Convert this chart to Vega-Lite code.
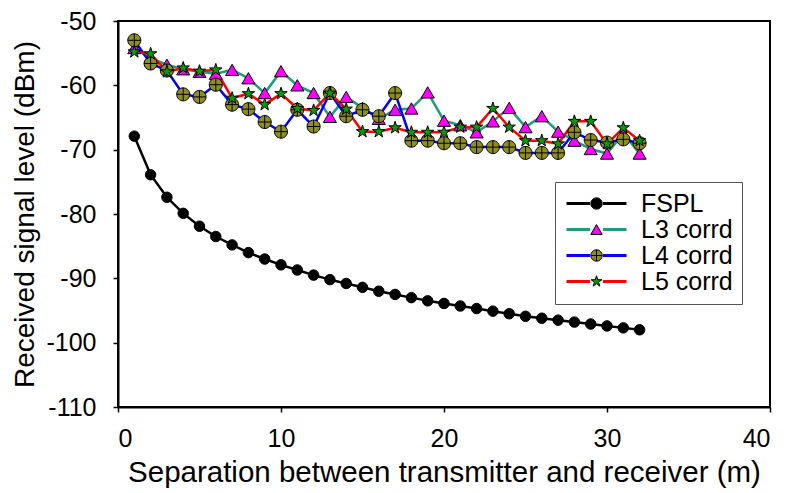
{
  "$schema": "https://vega.github.io/schema/vega-lite/v6.json",
  "width": 652,
  "height": 386,
  "autosize": {"type": "none"},
  "padding": {"left": 118, "top": 21, "right": 18, "bottom": 86},
  "background": "white",
  "config": {
    "font": "Liberation Sans",
    "view": {"stroke": "black", "strokeWidth": 2},
    "axis": {
      "grid": false,
      "domainColor": "black",
      "domainWidth": 2,
      "tickColor": "black",
      "tickWidth": 1.5,
      "tickSize": 5,
      "labelFont": "Liberation Sans",
      "labelFontSize": 25,
      "labelColor": "black",
      "titleFont": "Liberation Sans",
      "titleFontSize": 28,
      "titleFontWeight": "normal",
      "titleColor": "black"
    },
    "legend": {"labelFont": "Liberation Sans", "labelFontSize": 25, "labelColor": "black"}
  },
  "data": {
    "values": [
      {"series": "FSPL", "d": 1, "v": -67.9}, {"series": "FSPL", "d": 2, "v": -73.9}, {"series": "FSPL", "d": 3, "v": -77.4}, {"series": "FSPL", "d": 4, "v": -79.9},
      {"series": "FSPL", "d": 5, "v": -81.9}, {"series": "FSPL", "d": 6, "v": -83.5}, {"series": "FSPL", "d": 7, "v": -84.8}, {"series": "FSPL", "d": 8, "v": -86.0},
      {"series": "FSPL", "d": 9, "v": -87.0}, {"series": "FSPL", "d": 10, "v": -87.9}, {"series": "FSPL", "d": 11, "v": -88.7}, {"series": "FSPL", "d": 12, "v": -89.5},
      {"series": "FSPL", "d": 13, "v": -90.2}, {"series": "FSPL", "d": 14, "v": -90.8}, {"series": "FSPL", "d": 15, "v": -91.4}, {"series": "FSPL", "d": 16, "v": -92.0},
      {"series": "FSPL", "d": 17, "v": -92.5}, {"series": "FSPL", "d": 18, "v": -93.0}, {"series": "FSPL", "d": 19, "v": -93.5}, {"series": "FSPL", "d": 20, "v": -93.9},
      {"series": "FSPL", "d": 21, "v": -94.3}, {"series": "FSPL", "d": 22, "v": -94.7}, {"series": "FSPL", "d": 23, "v": -95.1}, {"series": "FSPL", "d": 24, "v": -95.5},
      {"series": "FSPL", "d": 25, "v": -95.9}, {"series": "FSPL", "d": 26, "v": -96.2}, {"series": "FSPL", "d": 27, "v": -96.5}, {"series": "FSPL", "d": 28, "v": -96.8},
      {"series": "FSPL", "d": 29, "v": -97.1}, {"series": "FSPL", "d": 30, "v": -97.4}, {"series": "FSPL", "d": 31, "v": -97.7}, {"series": "FSPL", "d": 32, "v": -98.0},

      {"series": "L3 corrd", "d": 1, "v": -54.2}, {"series": "L3 corrd", "d": 2, "v": -55.8}, {"series": "L3 corrd", "d": 3, "v": -56.8}, {"series": "L3 corrd", "d": 4, "v": -57.5},
      {"series": "L3 corrd", "d": 5, "v": -57.9}, {"series": "L3 corrd", "d": 6, "v": -58.2}, {"series": "L3 corrd", "d": 7, "v": -57.6}, {"series": "L3 corrd", "d": 8, "v": -58.9},
      {"series": "L3 corrd", "d": 9, "v": -61.2}, {"series": "L3 corrd", "d": 10, "v": -57.8}, {"series": "L3 corrd", "d": 11, "v": -60.0}, {"series": "L3 corrd", "d": 12, "v": -61.2},
      {"series": "L3 corrd", "d": 13, "v": -64.9}, {"series": "L3 corrd", "d": 14, "v": -61.8}, {"series": "L3 corrd", "d": 15, "v": -63.5}, {"series": "L3 corrd", "d": 16, "v": -65.2},
      {"series": "L3 corrd", "d": 17, "v": -63.8}, {"series": "L3 corrd", "d": 18, "v": -63.6}, {"series": "L3 corrd", "d": 19, "v": -61.1}, {"series": "L3 corrd", "d": 20, "v": -65.5},
      {"series": "L3 corrd", "d": 21, "v": -66.2}, {"series": "L3 corrd", "d": 22, "v": -67.3}, {"series": "L3 corrd", "d": 23, "v": -65.6}, {"series": "L3 corrd", "d": 24, "v": -63.5},
      {"series": "L3 corrd", "d": 25, "v": -66.5}, {"series": "L3 corrd", "d": 26, "v": -64.8}, {"series": "L3 corrd", "d": 27, "v": -67.2}, {"series": "L3 corrd", "d": 28, "v": -68.6},
      {"series": "L3 corrd", "d": 29, "v": -69.9}, {"series": "L3 corrd", "d": 30, "v": -70.6}, {"series": "L3 corrd", "d": 31, "v": -67.5}, {"series": "L3 corrd", "d": 32, "v": -70.6},

      {"series": "L4 corrd", "d": 1, "v": -53.0}, {"series": "L4 corrd", "d": 2, "v": -56.6}, {"series": "L4 corrd", "d": 3, "v": -57.7}, {"series": "L4 corrd", "d": 4, "v": -61.4},
      {"series": "L4 corrd", "d": 5, "v": -61.8}, {"series": "L4 corrd", "d": 6, "v": -59.9}, {"series": "L4 corrd", "d": 7, "v": -63.0}, {"series": "L4 corrd", "d": 8, "v": -63.7},
      {"series": "L4 corrd", "d": 9, "v": -65.7}, {"series": "L4 corrd", "d": 10, "v": -67.2}, {"series": "L4 corrd", "d": 11, "v": -63.8}, {"series": "L4 corrd", "d": 12, "v": -66.4},
      {"series": "L4 corrd", "d": 13, "v": -61.2}, {"series": "L4 corrd", "d": 14, "v": -64.8}, {"series": "L4 corrd", "d": 15, "v": -63.8}, {"series": "L4 corrd", "d": 16, "v": -64.8},
      {"series": "L4 corrd", "d": 17, "v": -61.2}, {"series": "L4 corrd", "d": 18, "v": -68.6}, {"series": "L4 corrd", "d": 19, "v": -68.6}, {"series": "L4 corrd", "d": 20, "v": -69.0},
      {"series": "L4 corrd", "d": 21, "v": -69.0}, {"series": "L4 corrd", "d": 22, "v": -69.6}, {"series": "L4 corrd", "d": 23, "v": -69.6}, {"series": "L4 corrd", "d": 24, "v": -69.6},
      {"series": "L4 corrd", "d": 25, "v": -70.5}, {"series": "L4 corrd", "d": 26, "v": -70.5}, {"series": "L4 corrd", "d": 27, "v": -70.5}, {"series": "L4 corrd", "d": 28, "v": -67.3},
      {"series": "L4 corrd", "d": 29, "v": -68.5}, {"series": "L4 corrd", "d": 30, "v": -68.9}, {"series": "L4 corrd", "d": 31, "v": -68.4}, {"series": "L4 corrd", "d": 32, "v": -69.0},

      {"series": "L5 corrd", "d": 1, "v": -54.8}, {"series": "L5 corrd", "d": 2, "v": -55.1}, {"series": "L5 corrd", "d": 3, "v": -57.9}, {"series": "L5 corrd", "d": 4, "v": -57.3},
      {"series": "L5 corrd", "d": 5, "v": -57.8}, {"series": "L5 corrd", "d": 6, "v": -57.6}, {"series": "L5 corrd", "d": 7, "v": -62.0}, {"series": "L5 corrd", "d": 8, "v": -61.3},
      {"series": "L5 corrd", "d": 9, "v": -63.0}, {"series": "L5 corrd", "d": 10, "v": -61.3}, {"series": "L5 corrd", "d": 11, "v": -63.6}, {"series": "L5 corrd", "d": 12, "v": -63.9},
      {"series": "L5 corrd", "d": 13, "v": -61.2}, {"series": "L5 corrd", "d": 14, "v": -63.7}, {"series": "L5 corrd", "d": 15, "v": -67.2}, {"series": "L5 corrd", "d": 16, "v": -67.2},
      {"series": "L5 corrd", "d": 17, "v": -66.6}, {"series": "L5 corrd", "d": 18, "v": -67.3}, {"series": "L5 corrd", "d": 19, "v": -67.3}, {"series": "L5 corrd", "d": 20, "v": -67.3},
      {"series": "L5 corrd", "d": 21, "v": -66.5}, {"series": "L5 corrd", "d": 22, "v": -66.5}, {"series": "L5 corrd", "d": 23, "v": -63.6}, {"series": "L5 corrd", "d": 24, "v": -66.5},
      {"series": "L5 corrd", "d": 25, "v": -68.6}, {"series": "L5 corrd", "d": 26, "v": -68.6}, {"series": "L5 corrd", "d": 27, "v": -69.1}, {"series": "L5 corrd", "d": 28, "v": -65.6},
      {"series": "L5 corrd", "d": 29, "v": -65.6}, {"series": "L5 corrd", "d": 30, "v": -69.1}, {"series": "L5 corrd", "d": 31, "v": -66.6}, {"series": "L5 corrd", "d": 32, "v": -68.6}
    ]
  },
  "encoding": {
    "x": {
      "field": "d", "type": "quantitative",
      "scale": {"domain": [0, 40], "nice": false, "zero": false},
      "axis": {"values": [0, 10, 20, 30, 40], "title": "Separation between transmitter and receiver (m)", "titleFontSize": 29.5, "labelPadding": 14, "titlePadding": 7}
    },
    "y": {
      "field": "v", "type": "quantitative",
      "scale": {"domain": [-110, -50], "nice": false, "zero": false},
      "axis": {
        "values": [-110, -100, -90, -80, -70, -60, -50],
        "labelExpr": "replace(datum.label, '−', '-')",
        "title": "Received signal level (dBm)", "labelPadding": 17, "titlePadding": 6
      }
    }
  },
  "layer": [
    {
      "mark": {"type": "line", "strokeWidth": 2.5},
      "encoding": {
        "color": {
          "field": "series", "type": "nominal",
          "scale": {"domain": ["FSPL", "L3 corrd", "L4 corrd", "L5 corrd"], "range": ["#000000", "#1f9c7c", "#0000ff", "#ff0000"]},
          "legend": {
            "title": null, "orient": "none", "legendX": 437, "legendY": 161,
            "symbolType": "M-2,0H2.7M5.3,0H10", "symbolSize": 100, "symbolStrokeWidth": 3,
            "labelOffset": 52, "rowPadding": 0, "padding": 9,
            "strokeColor": "#555555"
          }
        }
      }
    },
    {
      "transform": [{"filter": "datum.series == 'FSPL'"}],
      "mark": {"type": "point", "filled": true, "stroke": "black", "strokeWidth": 1, "opacity": 1, "size": 110},
      "encoding": {
        "shape": {
          "field": "series", "type": "nominal",
          "scale": {"range": ["circle", "triangle-up", "M-1,0A1,1,0,1,1,1,0A1,1,0,1,1,-1,0ZM-1,0L1,0M0,-1L0,1", "M0,-1L0.223,-0.307L0.951,-0.309L0.361,0.117L0.588,0.809L0,0.38L-0.588,0.809L-0.361,0.117L-0.951,-0.309L-0.223,-0.307Z"]},
          "legend": {
            "title": null, "orient": "none", "legendX": 457, "legendY": 161,
            "symbolSize": 130, "symbolStrokeColor": "black", "symbolStrokeWidth": 1, "symbolOpacity": 1,
            "labelExpr": "' '", "labelOpacity": 0, "labelOffset": 4, "rowPadding": 0, "padding": 9,
            "encode": {"symbols": {"update": {"stroke": {"value": "black"}, "strokeWidth": {"value": 1}}}}
          }
        },
        "fill": {
          "field": "series", "type": "nominal",
          "scale": {"range": ["#000000", "#ff00ff", "#8f8f1f", "#00a000"]},
          "legend": {
            "title": null, "orient": "none", "legendX": 457, "legendY": 161,
            "symbolSize": 130, "symbolStrokeColor": "black", "symbolStrokeWidth": 1, "symbolOpacity": 1,
            "labelExpr": "' '", "labelOpacity": 0, "labelOffset": 4, "rowPadding": 0, "padding": 9,
            "encode": {"symbols": {"update": {"stroke": {"value": "black"}, "strokeWidth": {"value": 1}}}}
          }
        }
      }
    },
    {
      "transform": [{"filter": "datum.series != 'FSPL'"}],
      "mark": {"type": "point", "filled": true, "stroke": "black", "strokeWidth": 1, "opacity": 1, "size": 170},
      "encoding": {
        "shape": {
          "field": "series", "type": "nominal",
          "legend": {
            "title": null, "orient": "none", "legendX": 457, "legendY": 161,
            "symbolSize": 130, "symbolStrokeColor": "black", "symbolStrokeWidth": 1, "symbolOpacity": 1,
            "labelExpr": "' '", "labelOpacity": 0, "labelOffset": 4, "rowPadding": 0, "padding": 9,
            "encode": {"symbols": {"update": {"stroke": {"value": "black"}, "strokeWidth": {"value": 1}}}}
          }
        },
        "fill": {
          "field": "series", "type": "nominal",
          "legend": {
            "title": null, "orient": "none", "legendX": 457, "legendY": 161,
            "symbolSize": 130, "symbolStrokeColor": "black", "symbolStrokeWidth": 1, "symbolOpacity": 1,
            "labelExpr": "' '", "labelOpacity": 0, "labelOffset": 4, "rowPadding": 0, "padding": 9,
            "encode": {"symbols": {"update": {"stroke": {"value": "black"}, "strokeWidth": {"value": 1}}}}
          }
        }
      }
    }
  ]
}
